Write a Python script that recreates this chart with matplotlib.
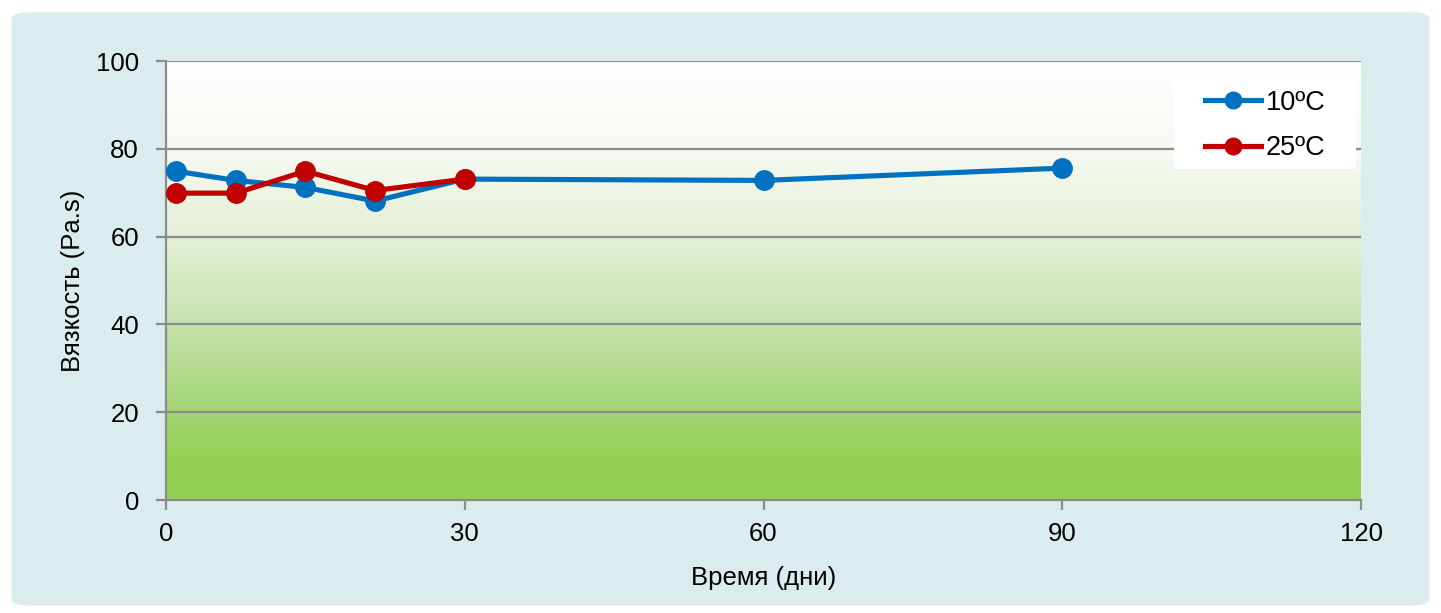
import numpy as np
import matplotlib.pyplot as plt
from matplotlib.colors import LinearSegmentedColormap
from matplotlib.patches import FancyBboxPatch, Rectangle

plt.rcParams['font.family'] = ['Liberation Sans', 'DejaVu Sans']

# ---------------------------
# DATA
# ---------------------------
days_10 = [1, 7, 14, 21, 30, 60, 90]
visc_10 = [74.9, 72.8, 71.2, 68.1, 73.1, 72.8, 75.6]

days_25 = [1, 7, 14, 21, 30]
visc_25 = [69.9, 69.9, 74.9, 70.5, 73.1]

x_ticks = [0, 30, 60, 90, 120]
y_ticks = [0, 20, 40, 60, 80, 100]

blue = '#0070c0'
red = '#c00000'

# ---------------------------
# FIGURE
# ---------------------------
fig = plt.figure(figsize=(14.41, 6.13), dpi=100)
fig.patch.set_facecolor('white')
bg = FancyBboxPatch((0.008, 0.012), 0.984, 0.968, boxstyle='round,pad=0,rounding_size=0.012',
                    transform=fig.transFigure, facecolor='#dbecef', edgecolor='none', zorder=-10)
fig.patches.append(bg)

ax = fig.add_axes([166 / 1441, 1 - 500 / 613, (1361 - 166) / 1441, (500 - 61) / 613])
ax.set_facecolor('none')
ax.set_xlim(0, 120)
ax.set_ylim(0, 100)

# white-to-green gradient fill of the plot area
grad_cmap = LinearSegmentedColormap.from_list('grad', [
    (0.0, '#92d050'), (0.1, '#95d156'), (0.2, '#a3d574'), (0.4, '#c6e2ad'),
    (0.6, '#e3efd6'), (0.8, '#f7faf2'), (1.0, '#ffffff')])
grad = np.linspace(0, 1, 256).reshape(-1, 1)
ax.imshow(grad, cmap=grad_cmap, extent=[0, 120, 0, 100], origin='lower', aspect='auto', zorder=0)

for y in y_ticks[1:]:
    ax.axhline(y, color='#8c8c8c', lw=1.6, zorder=1)

ax.plot(days_10, visc_10, color=blue, lw=3.7, marker='o', ms=14, label='10ºC', zorder=3)
ax.plot(days_25, visc_25, color=red, lw=3.7, marker='o', ms=14, label='25ºC', zorder=4)

ax.set_xticks(x_ticks)
ax.set_yticks(y_ticks)
ax.tick_params(axis='both', labelsize=18.5, length=7, width=1.6, color='#8c8c8c', direction='out')
ax.tick_params(axis='y', pad=12.5)
ax.tick_params(axis='x', pad=9)
for side in ['top', 'right']:
    ax.spines[side].set_visible(False)
for side in ['left', 'bottom']:
    ax.spines[side].set_color('#8c8c8c')
    ax.spines[side].set_linewidth(1.6)

ax.set_xlabel('Время (дни)', fontsize=18.5, labelpad=14)
ax.set_ylabel('Вязкость (Pa.s)', fontsize=18.5, labelpad=8)

# white legend panel covering the grid
ax.add_patch(Rectangle((0.8435, 0.754), 0.1523, 0.2027, transform=ax.transAxes,
                       facecolor='white', edgecolor='none', zorder=2.5))
leg = ax.legend(loc='upper left', bbox_to_anchor=(0.8695, 0.934), fontsize=19.5, frameon=False,
                handlelength=2.05, markerscale=0.85, borderpad=0, borderaxespad=0,
                labelspacing=0.72, handletextpad=0.2)

fig.savefig('out.png', dpi=100)
